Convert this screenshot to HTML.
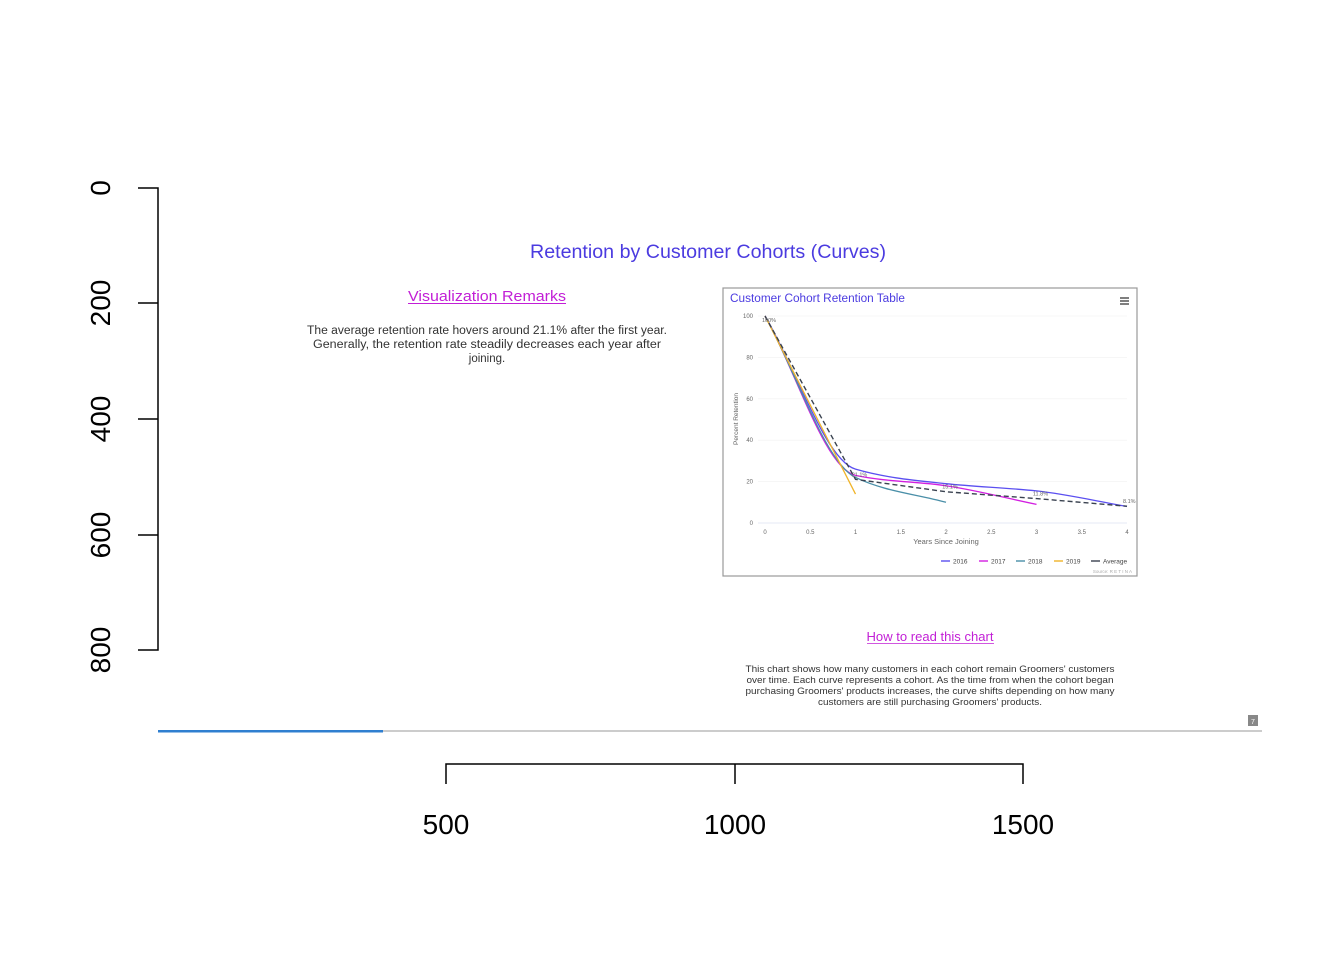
<!DOCTYPE html>
<html><head><meta charset="utf-8">
<style>
html,body{margin:0;padding:0;background:#fff;}
svg{display:block;font-family:"Liberation Sans",sans-serif;}
</style></head>
<body>
<svg id="root" width="1344" height="960" viewBox="0 0 1344 960">
  <g stroke="#000" stroke-width="1.5" fill="none">
    <path d="M138,188 H158 V650 H138"/>
    <path d="M138,303 H158 M138,419 H158 M138,535 H158"/>
  </g>
  <g font-size="28" fill="#000" text-anchor="middle">
    <text transform="translate(110,188) rotate(-90)">0</text>
    <text transform="translate(110,303) rotate(-90)">200</text>
    <text transform="translate(110,419) rotate(-90)">400</text>
    <text transform="translate(110,535) rotate(-90)">600</text>
    <text transform="translate(110,650) rotate(-90)">800</text>
  </g>
  <g stroke="#000" stroke-width="1.5" fill="none">
    <path d="M446,784 V764 H1023 V784 M735,764 V784"/>
  </g>
  <g font-size="28" fill="#000" text-anchor="middle">
    <text x="446" y="834">500</text>
    <text x="735" y="834">1000</text>
    <text x="1023" y="834">1500</text>
  </g>

  <text x="708" y="258" text-anchor="middle" font-size="19.5" fill="#4b3be0" textLength="356" lengthAdjust="spacingAndGlyphs">Retention by Customer Cohorts (Curves)</text>

  <text x="487" y="301" text-anchor="middle" font-size="15" fill="#c21fd6" textLength="158" lengthAdjust="spacingAndGlyphs">Visualization Remarks</text>
  <line x1="408" y1="303.5" x2="566" y2="303.5" stroke="#c21fd6" stroke-width="1"/>
  <g font-size="11.5" fill="#333" text-anchor="middle">
    <text x="487" y="334" textLength="360" lengthAdjust="spacingAndGlyphs">The average retention rate hovers around 21.1% after the first year.</text>
    <text x="487" y="348" textLength="348" lengthAdjust="spacingAndGlyphs">Generally, the retention rate steadily decreases each year after</text>
    <text x="487" y="362">joining.</text>
  </g>

  <g>
    <rect x="723" y="288" width="414" height="288" fill="#fff" stroke="#999" stroke-width="1.2"/>
    <text x="730" y="302" font-size="11.5" fill="#4b3be0" textLength="175" lengthAdjust="spacingAndGlyphs">Customer Cohort Retention Table</text>
    <g stroke="#333" stroke-width="1.2">
      <path d="M1120,298 h9 M1120,301 h9 M1120,304 h9"/>
    </g>
    <g id="inner-grid"></g>
    <g id="inner-series"></g>
    <text transform="translate(738,419) rotate(-90)" font-size="6.5" fill="#666" text-anchor="middle">Percent Retention</text>
    <text x="946" y="544" font-size="7.5" fill="#666" text-anchor="middle">Years Since Joining</text>
    <g id="inner-legend" font-size="7" fill="#444"></g>
    <text x="1132" y="573" font-size="4.5" fill="#aaa" text-anchor="end">Source: R E T I N A</text>
  </g>

  <text x="930" y="641" text-anchor="middle" font-size="12.5" fill="#c21fd6" textLength="127" lengthAdjust="spacingAndGlyphs">How to read this chart</text>
  <line x1="867" y1="643.5" x2="994" y2="643.5" stroke="#c21fd6" stroke-width="0.8"/>
  <g font-size="9.5" fill="#333" text-anchor="middle">
    <text x="930" y="672" textLength="369" lengthAdjust="spacingAndGlyphs">This chart shows how many customers in each cohort remain Groomers' customers</text>
    <text x="930" y="683" textLength="367" lengthAdjust="spacingAndGlyphs">over time. Each curve represents a cohort. As the time from when the cohort began</text>
    <text x="930" y="694" textLength="369" lengthAdjust="spacingAndGlyphs">purchasing Groomers' products increases, the curve shifts depending on how many</text>
    <text x="930" y="705" textLength="224" lengthAdjust="spacingAndGlyphs">customers are still purchasing Groomers' products.</text>
  </g>

  <g>
    <rect x="1248" y="715" width="10" height="11" fill="#888"/>
    <text x="1253" y="724" font-size="7" fill="#fff" text-anchor="middle">7</text>
  </g>
  <g>
    <rect x="158" y="730" width="1104" height="2" fill="#ccc"/>
    <rect x="158" y="730" width="225" height="2.5" fill="#2f7fd0"/>
  </g>
</svg>
<script>
const years = [0, 1, 2, 3, 4];
const yTicks = [0, 20, 40, 60, 80, 100];
const xTicks = [0, 0.5, 1, 1.5, 2, 2.5, 3, 3.5, 4];
const s2016 = [100, 26, 19, 15.5, 8];
const s2017 = [100, 23, 18, 9];
const s2018 = [100, 22, 10];
const s2019 = [100, 14];
const sAverage = [100, 21.1, 15.1, 11.8, 8.1];
const avgLabels = ['100%', '21.1%', '15.1%', '11.8%', '8.1%'];
const legendNames = ['2016', '2017', '2018', '2019', 'Average'];

const NS = 'http://www.w3.org/2000/svg';
const X0 = 765, X1 = 1127, Y0 = 523, Y1 = 316;
function sx(v){ return X0 + (v - 0) / 4 * (X1 - X0); }
function sy(v){ return Y0 - v / 100 * (Y0 - Y1); }

function mk(tag, attrs, parent){
  const e = document.createElementNS(NS, tag);
  for (const k in attrs) e.setAttribute(k, attrs[k]);
  parent.appendChild(e); return e;
}

const grid = document.getElementById('inner-grid');
yTicks.forEach(t => {
  const l = mk('line', {x1: 758, x2: X1, y1: sy(t), y2: sy(t), stroke: t === 0 ? '#ccd6eb' : '#f0f0f0', 'stroke-width': 0.6}, grid);
  
  
  const tx = mk('text', {x: 753, y: sy(t) + 2, 'font-size': 6, fill: '#666', 'text-anchor': 'end'}, grid);
  
  
  tx.textContent = t;
});
xTicks.forEach(t => {
  const tx = mk('text', {x: sx(t), y: 534, 'font-size': 6, fill: '#666', 'text-anchor': 'middle'}, grid);
  
  
  tx.textContent = t;
});

function monoPath(xs, ys){
  const n = xs.length;
  if (n < 2) return '';
  const px = xs.map(sx), py = ys.map(sy);
  if (n === 2) return 'M' + px[0] + ',' + py[0] + 'L' + px[1] + ',' + py[1];
  const d = [], m = [];
  for (let i = 0; i < n - 1; i++) d.push((py[i+1] - py[i]) / (px[i+1] - px[i]));
  m[0] = d[0]; m[n-1] = d[n-2];
  for (let i = 1; i < n - 1; i++) m[i] = (d[i-1] * d[i] <= 0) ? 0 : 2 / (1 / d[i-1] + 1 / d[i]);
  let p = 'M' + px[0] + ',' + py[0];
  for (let i = 0; i < n - 1; i++){
    const h = (px[i+1] - px[i]) / 3;
    p += 'C' + (px[i] + h) + ',' + (py[i] + m[i] * h) + ' ' + (px[i+1] - h) + ',' + (py[i+1] - m[i+1] * h) + ' ' + px[i+1] + ',' + py[i+1];
  }
  return p;
}

const seriesG = document.getElementById('inner-series');
const seriesList = [
  {vals: s2016, color: '#5b4ff0', name: 'line-2016'},
  {vals: s2017, color: '#d21fe0', name: 'line-2017'},
  {vals: s2018, color: '#4a8fa8', name: 'line-2018'},
  {vals: s2019, color: '#f0b429', name: 'line-2019'},
];
seriesList.forEach(s => {
  const path = mk('path', {d: monoPath(years.slice(0, s.vals.length), s.vals), fill: 'none', stroke: s.color, 'stroke-width': 1.3}, seriesG);
  
  
});
let avgD = '';
sAverage.forEach((v, i) => { avgD += (i ? 'L' : 'M') + sx(years[i]) + ',' + sy(v); });
const avg = mk('path', {d: avgD, fill: 'none', stroke: '#3a4250', 'stroke-width': 1.4, 'stroke-dasharray': '5,3'}, seriesG);


sAverage.forEach((v, i) => {
  const t = mk('text', {x: sx(years[i]) + (i === 4 ? -4 : 4), y: sy(v) - 3 + (i === 0 ? 9 : 0), 'font-size': 5.5, fill: '#666', 'text-anchor': i === 4 ? 'start' : 'middle'}, seriesG);
  
  
  t.textContent = avgLabels[i];
});

const leg = document.getElementById('inner-legend');
const legColors = ['#5b4ff0', '#d21fe0', '#4a8fa8', '#f0b429', '#3a4250'];
const legX = [941, 979, 1016, 1054, 1091];
legendNames.forEach((n, i) => {
  const g = mk('g', {}, leg);
  
  
  mk('line', {x1: legX[i], x2: legX[i] + 9, y1: 561, y2: 561, stroke: legColors[i], 'stroke-width': 1.4}, g);
  const t = mk('text', {x: legX[i] + 12, y: 563.5, 'font-size': 6.5, fill: '#444'}, g);
  t.textContent = n;
});
</script>
</body></html>
